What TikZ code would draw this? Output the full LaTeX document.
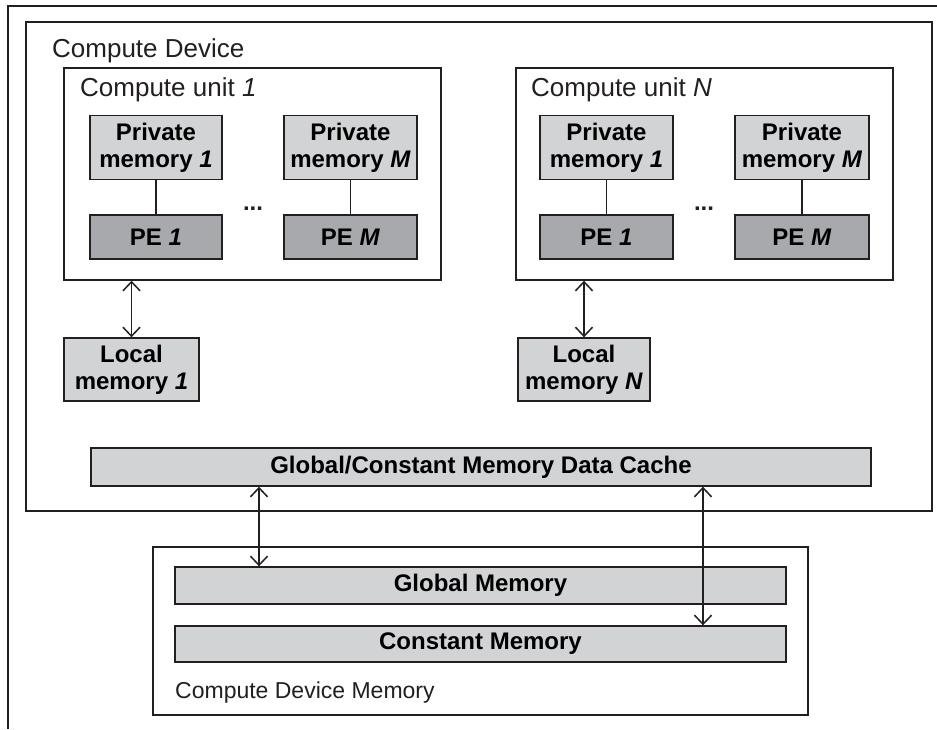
\documentclass[tikz,border=0pt]{standalone}
\usepackage{fontspec}
\setmainfont{Liberation Sans}
\usetikzlibrary{arrows.meta}
\definecolor{lightbox}{HTML}{D1D3D4}
\definecolor{darkbox}{HTML}{A7A9AC}
\definecolor{ink}{HTML}{231F20}
\tikzset{
  frame/.style={draw=ink, line width=1.4pt, fill=none, inner sep=0pt},
  membox/.style={draw=ink, line width=1.4pt, fill=lightbox, inner sep=0pt, align=center,
    font=\fontsize{24}{27}\selectfont\bfseries},
  pebox/.style={membox, fill=darkbox},
  lbl/.style={inner sep=0pt, font=\fontsize{26}{30}\selectfont, text=ink},
  conn/.style={draw=ink, line width=1.3pt},
  arr/.style={conn, Straight Barb-Straight Barb, arrows={[length=9pt,width=17pt,line width=1.5pt]}},
  dots/.style={inner sep=0pt, font=\fontsize{24}{27}\selectfont\bfseries, text=ink}
}
\begin{document}
\begin{tikzpicture}[x=1pt,y=-1pt]
\useasboundingbox (0,0) rectangle (937,729);
\fill[white] (0,0) rectangle (937,729);
% outer frame (partial)
\draw[ink, line width=1.4pt] (8,729) -- (8,6) -- (937,6);

% compute device
\node[frame, minimum width=906pt, minimum height=489pt] (cd) at (479,266.5) {};
\node[lbl, anchor=base west] (cdl) at (52,57) {Compute Device};

% compute unit 1
\node[frame, minimum width=377pt, minimum height=212pt] (cu1) at (252.5,174) {};
\node[lbl, anchor=base west] (cu1l) at (80,96) {Compute unit \textit{1}};
\node[membox, minimum width=132pt, minimum height=64pt] (pm11) at (156,147.5) {Private\\memory \textit{1}};
\node[pebox, minimum width=132pt, minimum height=44pt] (pe11) at (156,237) {PE \textit{1}};
\node[membox, minimum width=133pt, minimum height=64pt] (pm1m) at (350.5,147.5) {Private\\memory \textit{M}};
\node[pebox, minimum width=133pt, minimum height=44pt] (pe1m) at (350.5,237) {PE \textit{M}};
\node[dots, anchor=base] (d1) at (253,210) {...};
\draw[conn] (pm11.south) -- (pe11.north);
\draw[conn] (pm1m.south) -- (pe1m.north);

% compute unit N
\node[frame, minimum width=377pt, minimum height=212pt] (cun) at (704.5,174) {};
\node[lbl, anchor=base west] (cunl) at (531,96) {Compute unit \textit{N}};
\node[membox, minimum width=133pt, minimum height=64pt] (pmn1) at (606.5,147.5) {Private\\memory \textit{1}};
\node[pebox, minimum width=133pt, minimum height=44pt] (pen1) at (606.5,237) {PE \textit{1}};
\node[membox, minimum width=134pt, minimum height=64pt] (pmnm) at (802,147.5) {Private\\memory \textit{M}};
\node[pebox, minimum width=134pt, minimum height=44pt] (penm) at (802,237) {PE \textit{M}};
\node[dots, anchor=base] (dn) at (704,210) {...};
\draw[conn] (pmn1.south) -- (pen1.north);
\draw[conn] (pmnm.south) -- (penm.north);

% local memories
\node[membox, minimum width=135pt, minimum height=63pt] (lm1) at (131.5,369.5) {Local\\memory \textit{1}};
\node[membox, minimum width=132pt, minimum height=63pt] (lmn) at (584,369.5) {Local\\memory \textit{N}};
\draw[arr] (lm1.north |- cu1.south) -- (lm1.north);
\draw[arr] (lmn.north |- cun.south) -- (lmn.north);

% cache
\node[membox, minimum width=780pt, minimum height=38pt] (cache) at (481,467) {Global/Constant Memory Data Cache};

% compute device memory
\node[frame, minimum width=655pt, minimum height=168pt] (cdm) at (480.5,631) {};
\node[membox, minimum width=611pt, minimum height=37pt] (glob) at (480.5,585.5) {Global Memory};
\node[membox, minimum width=611pt, minimum height=36pt] (const) at (480.5,644) {Constant Memory};
\node[lbl, anchor=base west, font=\fontsize{23}{27}\selectfont] (cdml) at (175,698) {Compute Device Memory};

\coordinate (ax1) at (259,0);
\coordinate (ax2) at (703,0);
\draw[arr] (ax1 |- cache.south) -- (ax1 |- glob.north);
\draw[arr] (ax2 |- cache.south) -- (ax2 |- const.north);
\end{tikzpicture}
\end{document}
